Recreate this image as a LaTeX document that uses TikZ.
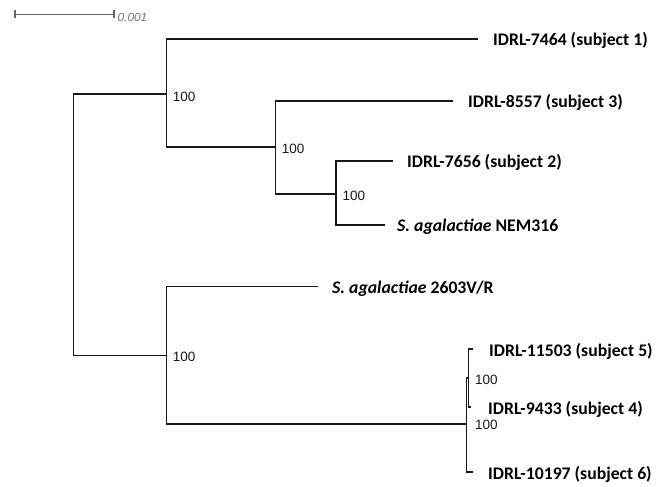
\documentclass[tikz,border=0pt]{standalone}
\usepackage{fontspec}
\setmainfont{Carlito}
\newfontfamily\helv{Liberation Sans}
\begin{document}
\begin{tikzpicture}[x=1pt,y=-1pt,
  branch/.style={draw=black!90, line width=1.5pt},
  leaf/.style={anchor=west, inner sep=0pt, font=\fontsize{17.7}{20}\selectfont\bfseries, text height=11.4pt, text depth=0pt},
  boot/.style={anchor=west, inner sep=0pt, font=\helv\fontsize{13.5}{15}\selectfont, text=black!90, text height=9.7pt, text depth=0pt},
  scalebar/.style={draw=black!60, line width=1.2pt}]
\useasboundingbox (0,0) rectangle (659,487);
% scale bar
\coordinate (s1) at (15,14.3);
\coordinate (s2) at (114,14.3);
\draw[scalebar] (s1) -- (s2);
\draw[scalebar] ([yshift=-4pt]s1) -- ([yshift=4pt]s1);
\draw[scalebar] ([yshift=-4pt]s2) -- ([yshift=4pt]s2);
\node[anchor=west, inner sep=0pt, font=\helv\itshape\fontsize{11.8}{13}\selectfont, text=black!55, text height=8.4pt, text depth=0pt] (sl) at (117.5,17.5) {0.001};
% internal nodes
\coordinate (root) at (73.3,225);
\coordinate (A) at (166.5,94);
\coordinate (B) at (275.5,147);
\coordinate (C) at (336,194);
\coordinate (D) at (166.3,355.7);
\coordinate (E) at (466.7,424);
\coordinate (F) at (468.5,378);
% leaf ends
\coordinate (L1) at (478,39);
\coordinate (L2) at (453,101);
\coordinate (L3) at (393,161);
\coordinate (L4) at (385,225);
\coordinate (L5) at (318,286.5);
\coordinate (L6) at (473,349);
\coordinate (L7) at (471,407);
\coordinate (L8) at (473,472);
% branches
\draw[branch] (A) -| (root) |- (D);
\draw[branch] (L1) -| (A) |- (B);
\draw[branch] (L2) -| (B) |- (C);
\draw[branch] (L3) -| (C) |- (L4);
\draw[branch] (L5) -| (D) |- (E);
\draw[branch] (F) -| (E) |- (L8);
\draw[branch] (L6) -| (F) |- (L7);
% leaf labels
\node[leaf] (t1) at (493,40) {IDRL-7464 (subject 1)};
\node[leaf] (t2) at (468,102) {IDRL-8557 (subject 3)};
\node[leaf] (t3) at (407,162) {IDRL-7656 (subject 2)};
\node[leaf] (t4) at (397,226) {\textit{S. agalactiae} NEM316};
\node[leaf] (t5) at (332,288) {\textit{S. agalactiae} 2603V/R};
\node[leaf] (t6) at (489,351) {IDRL-11503 (subject 5)};
\node[leaf] (t7) at (488,409) {IDRL-9433 (subject 4)};
\node[leaf] (t8) at (488,474) {IDRL-10197 (subject 6)};
% bootstrap values
\node[boot] (bA) at (172.7,96.5) {100};
\node[boot] (bB) at (281.7,148.5) {100};
\node[boot] (bC) at (342.5,196) {100};
\node[boot] (bD) at (172.7,357) {100};
\node[boot] (bF) at (475,380) {100};
\node[boot] (bE) at (475,425) {100};
\end{tikzpicture}
\end{document}
